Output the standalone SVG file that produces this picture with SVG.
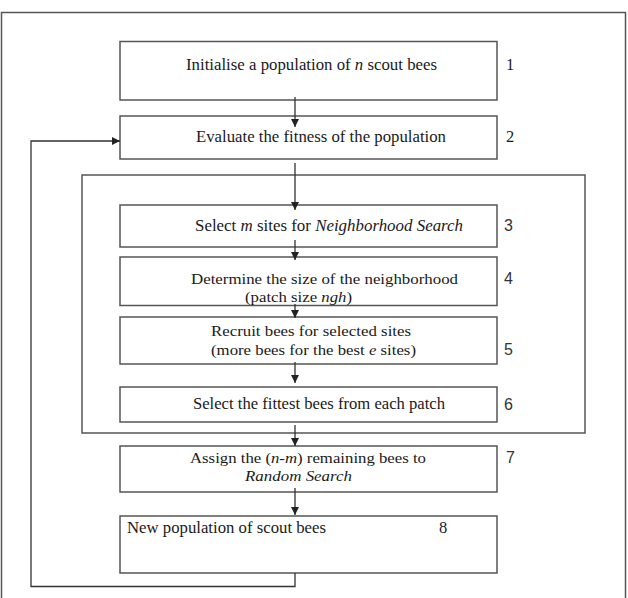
<svg xmlns="http://www.w3.org/2000/svg" width="628" height="598" viewBox="0 0 628 598">
<style>
.box{fill:#fff;stroke:#555;stroke-width:1.5}
.frame{fill:none;stroke:#555;stroke-width:1.5}
.t{font-family:"Liberation Serif","Times New Roman",serif;font-size:16.5px;fill:#1a1a1a}
.t2{font-size:15px}
.n{font-family:"Liberation Sans",Arial,sans-serif;font-size:16px;fill:#333}
.ns{font-family:"Liberation Serif","Times New Roman",serif;font-size:16.5px;fill:#1a1a1a}
.i{font-style:italic}
.c{fill:none;stroke:#333;stroke-width:1.3}
</style>
<defs>
<marker id="ah" markerWidth="10" markerHeight="10" refX="8" refY="4" orient="auto" markerUnits="userSpaceOnUse">
<path d="M0,0 L8,4 L0,8 z" fill="#222"/>
</marker>
</defs>
<rect width="628" height="598" fill="#fff"/>
<rect class="frame" x="1.5" y="12.5" width="624" height="590"/>
<g id="loop">
<rect class="frame" x="82" y="175" width="503" height="258"/>
</g>
<g id="n1">
<rect class="box" x="120" y="41.5" width="377" height="58.5"/>
<text class="t" x="186" y="70" textLength="251" lengthAdjust="spacingAndGlyphs">Initialise a population of <tspan class="i">n</tspan> scout bees</text>
<text class="ns" x="506" y="70">1</text>
</g>
<g id="n2">
<rect class="box" x="120" y="116" width="377" height="43"/>
<text class="t" x="196" y="142" textLength="250" lengthAdjust="spacingAndGlyphs">Evaluate the fitness of the population</text>
<text class="ns" x="506" y="142">2</text>
</g>
<g id="n3">
<rect class="box" x="120" y="205" width="377" height="42"/>
<text class="t" x="195" y="231" textLength="268" lengthAdjust="spacingAndGlyphs">Select <tspan class="i">m</tspan> sites for <tspan class="i">Neighborhood Search</tspan></text>
<text class="n" x="504" y="231">3</text>
</g>
<g id="n4">
<rect class="box" x="120" y="257" width="377" height="48.5"/>
<text class="t t2" x="191" y="283.5" textLength="267" lengthAdjust="spacingAndGlyphs">Determine the size of the neighborhood</text>
<text class="t t2" x="245" y="302" textLength="107" lengthAdjust="spacingAndGlyphs">(patch size <tspan class="i">ngh</tspan>)</text>
<text class="n" x="504" y="284">4</text>
</g>
<g id="n5">
<rect class="box" x="120" y="317" width="377" height="47"/>
<text class="t t2" x="211" y="336" textLength="200" lengthAdjust="spacingAndGlyphs">Recruit bees for selected sites</text>
<text class="t t2" x="211" y="354.5" textLength="205" lengthAdjust="spacingAndGlyphs">(more bees for the best <tspan class="i">e</tspan> sites)</text>
<text class="n" x="504" y="355">5</text>
</g>
<g id="n6">
<rect class="box" x="120" y="387" width="377" height="35"/>
<text class="t" x="193" y="409" textLength="252" lengthAdjust="spacingAndGlyphs">Select the fittest bees from each patch</text>
<text class="n" x="504" y="410">6</text>
</g>
<g id="n7">
<rect class="box" x="120" y="446" width="377" height="46"/>
<text class="t t2" x="190" y="462.5" textLength="236" lengthAdjust="spacingAndGlyphs">Assign the (<tspan class="i">n</tspan>-<tspan class="i">m</tspan>) remaining bees to</text>
<text class="t t2 i" x="245" y="481" textLength="107" lengthAdjust="spacingAndGlyphs">Random Search</text>
<text class="n" x="506" y="463">7</text>
</g>
<g id="n8">
<rect class="box" x="120" y="516" width="377" height="57"/>
<text class="t" x="127" y="533" textLength="199" lengthAdjust="spacingAndGlyphs">New population of scout bees</text>
<text class="ns" x="439" y="533">8</text>
</g>
<g id="connectors">
<line class="c" x1="295" y1="97" x2="295" y2="127" marker-end="url(#ah)"/>
<line class="c" x1="295" y1="163" x2="295" y2="210" marker-end="url(#ah)"/>
<line class="c" x1="295" y1="240" x2="295" y2="260" marker-end="url(#ah)"/>
<line class="c" x1="295" y1="304" x2="295" y2="318" marker-end="url(#ah)"/>
<line class="c" x1="295" y1="362" x2="295" y2="383" marker-end="url(#ah)"/>
<line class="c" x1="295" y1="425" x2="295" y2="446" marker-end="url(#ah)"/>
<line class="c" x1="295" y1="488" x2="295" y2="515" marker-end="url(#ah)"/>
<polyline class="c" points="295,573 295,586.5 31,586.5 31,141 120,141" marker-end="url(#ah)"/>
</g>
</svg>
